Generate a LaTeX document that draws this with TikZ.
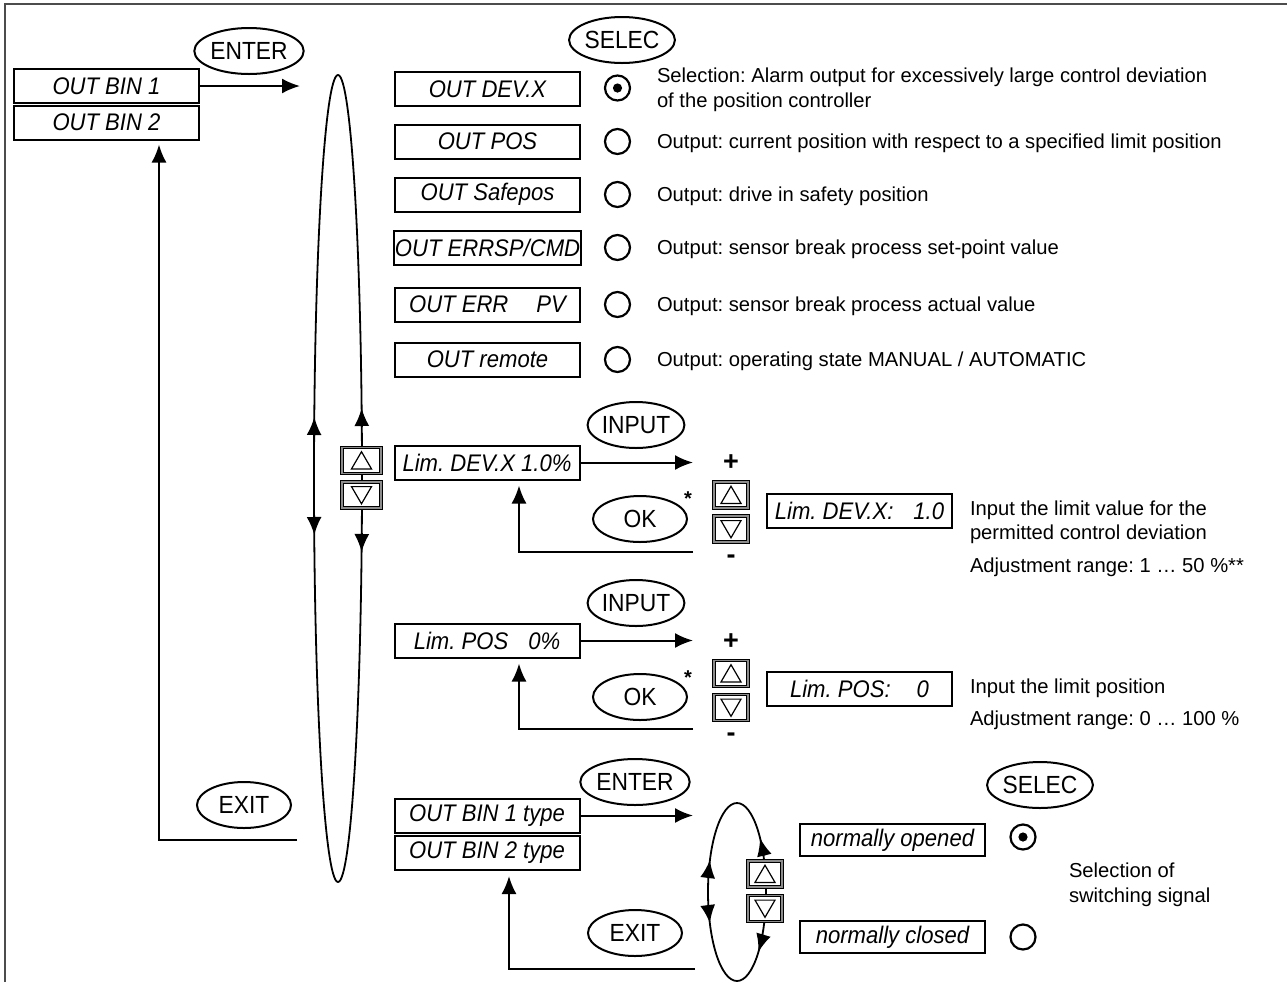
\documentclass[tikz,border=0pt]{standalone}
\usepackage{fontspec}
\setmainfont{Liberation Sans}
\newfontfamily\narrowfont[FakeStretch=0.92]{Liberation Sans}
\frenchspacing
\usetikzlibrary{shapes.geometric,arrows.meta}

\begin{document}
\begin{tikzpicture}[x=0.5pt,y=-0.5pt,line width=1pt,>={Latex[length=9pt,width=7.5pt]},
  disp/.style={draw,minimum width=92.5pt,minimum height=17pt,inner sep=0.3pt,font=\narrowfont\fontsize{12}{13}\selectfont\itshape},
  btnkey/.style={draw,ellipse,line width=1pt,minimum width=47pt,minimum height=23pt,inner sep=0pt,font=\narrowfont\fontsize{12.4}{13}\selectfont},
  btn/.style={draw,fill=white,line width=0.45pt,double=black!45,double distance=0.9pt,minimum width=17pt,minimum height=13pt,inner sep=0pt},
  btnup/.style={btn,path picture={\draw[line width=0.6pt] ([shift={(-5pt,-4.2pt)}]path picture bounding box.center) -- ([shift={(5pt,-4.2pt)}]path picture bounding box.center) -- ([shift={(0pt,4.4pt)}]path picture bounding box.center) -- cycle;}},
  btndn/.style={btn,path picture={\draw[line width=0.6pt] ([shift={(-5pt,4.2pt)}]path picture bounding box.center) -- ([shift={(5pt,4.2pt)}]path picture bounding box.center) -- ([shift={(0pt,-4.4pt)}]path picture bounding box.center) -- cycle;}},
  radio/.style={circle,draw,line width=1.1pt,minimum size=12.5pt,inner sep=0pt},
  radioon/.style={radio,path picture={\fill (path picture bounding box.center) circle[radius=2.3pt];}},
  desc/.style={anchor=base west,inner sep=0pt,font=\fontsize{10.1}{12}\selectfont},
  sign/.style={inner sep=0pt,font=\fontsize{13.5}{13}\selectfont\bfseries},
  starmark/.style={inner sep=0pt,font=\fontsize{10}{10}\selectfont\bfseries}]
\useasboundingbox (0,0) rectangle (1287,982);
\draw[line width=0.6pt,black!70] (5,982) -- (5,4) -- (1287,4);

% first level
\node[disp] (binA) at (106.5,86) {OUT BIN 1};
\node[disp] (binB) at (106.5,122.5) {OUT BIN 2};
\node[btnkey] (enterA) at (249,51) {ENTER};
\coordinate (loopA) at (300,86);
\draw[->] (binA.east) -- (loopA);

% selection loop
\draw[line width=0.9pt] (338,478.5) ellipse [x radius=24, y radius=403.5];
\draw[->] (314.1,436) -- (314.3,417);
\draw[->] (314.1,516) -- (314.3,535);
\draw[->] (361.8,427) -- (361.6,408);
\draw[->] (361.8,533) -- (361.6,552);
\node[btnup,minimum width=19.5pt] (upA) at (361.5,460.5) {};
\node[btndn,minimum width=19.5pt] (dnA) at (361.5,495) {};

\node[btnkey] (selA) at (622,40) {SELEC};
\node[disp] (optDev) at (487.5,89) {OUT DEV.X};
\node[disp] (optPos) at (487.5,141.5) {OUT POS};
\node[disp] (optSafe) at (487.5,194.5) {OUT Safepos};
\node[disp] (optSp) at (487.5,247.5) {OUT ERRSP/CMD};
\node[disp] (optPv) at (487.5,304.5) {OUT ERR\hspace{14pt}PV};
\node[disp] (optRem) at (487.5,359.5) {OUT remote};
\node[radioon] (rDev) at (617.5,88) {};
\node[radio] (rPos) at (617.5,141.5) {};
\node[radio] (rSafe) at (617.5,194.5) {};
\node[radio] (rSp) at (617.5,247.5) {};
\node[radio] (rPv) at (617.5,304.5) {};
\node[radio] (rRem) at (617.5,359.5) {};
\node[desc] (dDevA) at (656,82) {Selection: Alarm output for excessively large control deviation};
\node[desc] (dDevB) at (656,107) {of the position controller};
\node[desc] (dPos) at (656,148.5) {Output: current position with respect to a specified limit position};
\node[desc] (dSafe) at (656,201.5) {Output: drive in safety position};
\node[desc] (dSp) at (656,254.5) {Output: sensor break process set-point value};
\node[desc] (dPv) at (656,311.5) {Output: sensor break process actual value};
\node[desc] (dRem) at (656,366.5) {Output: operating state MANUAL / AUTOMATIC};

% limit deviation
\node[btnkey] (inA) at (636,425) {INPUT};
\node[disp] (limA) at (487,462.5) {Lim. DEV.X 1.0\%};
\coordinate (toA) at (693,462.5);
\draw[->] (limA.east) -- (toA);
\node[sign] (plA) at (731,463) {+};
\node[btnkey] (okA) at (640,519) {OK};
\node[starmark] (stA) at (688,499) {*};
\node[btnup] (upB) at (731,495) {};
\node[btndn] (dnB) at (731,529) {};
\node[sign] (mnA) at (731,559) {-};
\node[disp] (valA) at (859.5,510.5) {Lim. DEV.X:\hspace{10pt}1.0};
\coordinate (backA) at (693,552);
\draw[->] (backA) -| ([xshift=16pt,yshift=-2.5pt]limA.south);
\node[desc] (dLimA) at (969,515) {Input the limit value for the};
\node[desc] (dLimB) at (969,539) {permitted control deviation};
\node[desc] (dLimC) at (969,572) {Adjustment range: 1 \dots{} 50 \%**};

% limit position
\node[btnkey] (inB) at (636,603) {INPUT};
\node[disp] (limB) at (487,640.5) {Lim. POS\hspace{10pt}0\%};
\coordinate (toB) at (693,640.5);
\draw[->] (limB.east) -- (toB);
\node[sign] (plB) at (731,642) {+};
\node[btnkey] (okB) at (640,697) {OK};
\node[starmark] (stB) at (688,678) {*};
\node[btnup] (upC) at (731,673.5) {};
\node[btndn] (dnC) at (731,707.5) {};
\node[sign] (mnB) at (731,737) {-};
\node[disp] (valB) at (859.5,688.5) {Lim. POS:\hspace{13pt}0};
\coordinate (backB) at (693,729);
\draw[->] (backB) -| ([xshift=16pt,yshift=-2.5pt]limB.south);
\node[desc] (dPosA) at (969,693) {Input the limit position};
\node[desc] (dPosB) at (969,725) {Adjustment range: 0 \dots{} 100 \%};

% back to first level
\node[btnkey] (exitA) at (244,805) {EXIT};
\coordinate (backC) at (297,840);
\draw[->] (backC) -| ([xshift=26.25pt,yshift=-2pt]binB.south);

% switching type
\node[btnkey] (enterB) at (635,782) {ENTER};
\node[disp] (typeA) at (487,815.5) {OUT BIN 1 type};
\node[disp] (typeB) at (487,853) {OUT BIN 2 type};
\coordinate (loopB) at (693,815.5);
\draw[->] (typeA.east) -- (loopB);
\draw[line width=0.9pt] (737,892) ellipse [x radius=29, y radius=89];
\draw[->] (707.7,878) -- (709.9,860);
\draw[->] (707.7,905) -- (709.9,923);
\draw[->] (764.3,855.5) -- (760,838);
\draw[->] (763.5,934.7) -- (758.4,952);
\node[btnup] (upD) at (765,874) {};
\node[btndn] (dnD) at (765,908.5) {};
\node[btnkey] (exitB) at (635,933) {EXIT};
\coordinate (backD) at (695,969);
\draw[->] (backD) -| ([xshift=11pt,yshift=-2.5pt]typeB.south);
\node[btnkey] (selB) at (1040,785) {SELEC};
\node[disp,minimum height=16pt] (nOpen) at (892.5,840) {normally opened};
\node[disp,minimum height=16pt] (nClose) at (892.5,937) {normally closed};
\node[radioon] (rOpen) at (1023,837) {};
\node[radio] (rClose) at (1023,937) {};
\node[desc] (dSwA) at (1068,877) {Selection of};
\node[desc] (dSwB) at (1068,902) {switching signal};
\end{tikzpicture}
\end{document}
